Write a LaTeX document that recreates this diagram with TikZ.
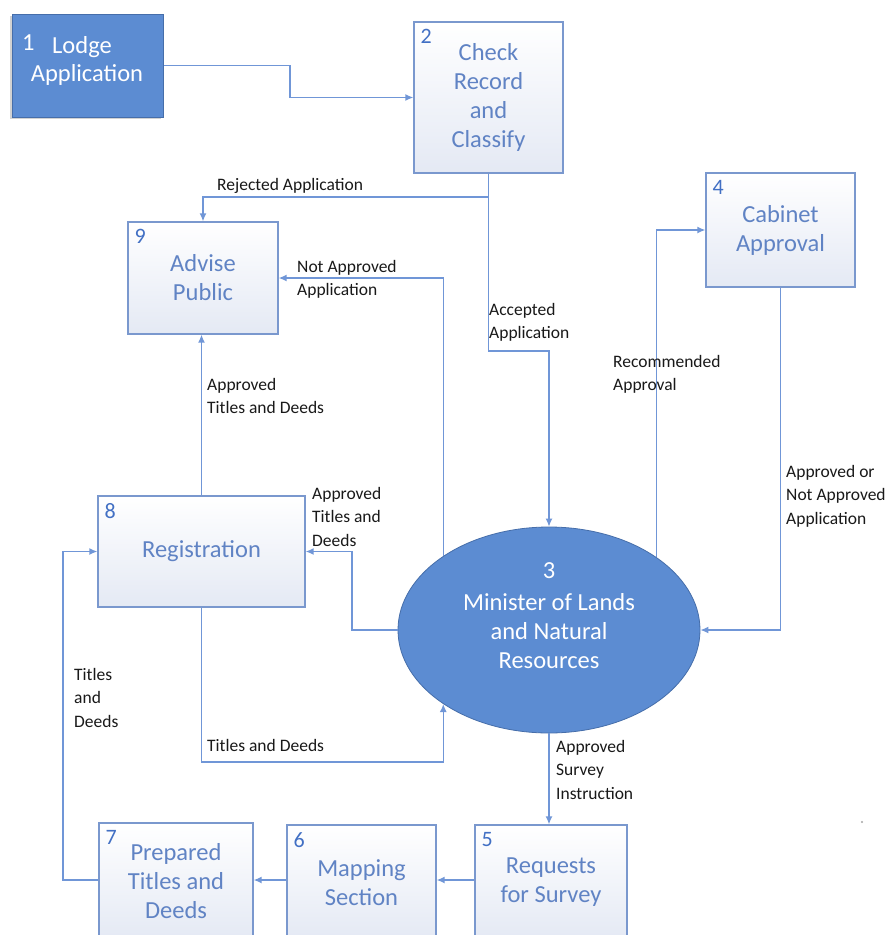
\documentclass[tikz,border=0pt]{standalone}
\usepackage{fontspec}
\setmainfont{Carlito}
\usetikzlibrary{shapes.geometric,arrows.meta,shadows,calc}

\definecolor{flowline}{RGB}{112,150,215}
\definecolor{boxline}{RGB}{122,152,206}
\definecolor{boxtext}{RGB}{96,131,196}
\definecolor{numtext}{RGB}{66,112,196}
\definecolor{boxgrad}{RGB}{228,233,244}
\definecolor{solidblue}{RGB}{92,140,210}
\definecolor{solidedge}{RGB}{70,110,170}
\definecolor{labeltext}{RGB}{25,25,25}

\tikzset{
  proc/.style={draw=boxline, line width=1.3pt, top color=white, bottom color=boxgrad,
    text=boxtext, align=center, inner sep=0pt,
    font=\fontsize{24.5}{29}\selectfont},
  num/.style={anchor=north west, inner sep=0pt, text=numtext,
    font=\fontsize{22}{22}\selectfont, xshift=7pt, yshift=-8pt},
  flow/.style={draw=flowline, line width=1.4pt, -{Latex[length=8pt,width=7pt]}},
  lbl/.style={anchor=north west, inner sep=0pt, align=left, text=labeltext,
    font=\fontsize{17.5}{23.5}\selectfont},
  whitetext/.style={inner sep=0pt, align=center, text=white,
    font=\fontsize{24.5}{29}\selectfont}
}

\begin{document}
\begin{tikzpicture}[x=1pt,y=-1pt]
\useasboundingbox (0,0) rectangle (895,935);
\clip (0,0) rectangle (895,935);
\fill[white] (0,0) rectangle (895,935);

% ---- process boxes ----
\node[draw=solidedge, line width=1pt, fill=solidblue, minimum width=151pt, minimum height=103pt,
      drop shadow={shadow xshift=-2pt, shadow yshift=-2pt, opacity=0.35}] (b1) at (87.5,65.5) {};
\node[whitetext, anchor=north west] (t1a) at (22,35) {1};
\node[whitetext] (t1b) at (82,47) {Lodge};
\node[whitetext] (t1c) at (87,75) {Application};

\node[proc, minimum width=149pt, minimum height=151pt, label={[num]north west:2}]
  (b2) at (488.5,97.5) {Check\\Record\\and\\Classify};
\node[proc, minimum width=150pt, minimum height=112pt, label={[num]north west:9}]
  (b9) at (203,278) {Advise\\Public};
\node[proc, minimum width=149pt, minimum height=114pt, label={[num]north west:4}]
  (b4) at (780.5,230) {Cabinet\\Approval};
\node[proc, minimum width=207pt, minimum height=111pt, label={[num]north west:8}]
  (b8) at (201.5,551.5) {Registration};
\node[proc, minimum width=154pt, minimum height=117pt, label={[num]north west:7}]
  (b7) at (176,881.5) {Prepared\\Titles and\\Deeds};
\node[proc, minimum width=149pt, minimum height=115pt, label={[num]north west:6}]
  (b6) at (361.5,882.5) {Mapping\\Section};
\node[proc, minimum width=152pt, minimum height=115pt, label={[num]north west:5}]
  (b5) at (551,882.5) {Requests\\for Survey};

% ---- central process ----
\node[ellipse, draw=solidedge, line width=0.8pt, fill=solidblue, inner sep=0pt,
      minimum width=302pt, minimum height=206pt] (m) at (549,630) {};
\node[whitetext] (t3) at (549,616) {3\\[3pt]Minister of Lands\\and Natural\\Resources};

% ---- flows ----
\draw[flow] (b1.east) -- (290,65.5) |- (b2.west);
\draw[flow] (b2.south) -- (488.5,197) -| (b9.north);
\draw[flow] (b2.south) -- (488.5,351) -| (m.north);
\draw[flow] (m.145) |- (b9.east);
\draw[flow] (m.34) |- (b4.west);
\draw[flow] (b4.south) |- (m.east);
\draw[flow] (m.west) -- (352,630) |- (b8.east);
\draw[flow] (b8.north) -- (b8.north |- b9.south);
\draw[flow] (b8.south) -- (201.5,762) -| (m.215);
\draw[flow] (m.south) -- (m.south |- b5.north);
\draw[flow] (b5.west |- 0,880) -- (b6.east |- 0,880);
\draw[flow] (b6.west |- 0,880) -- (b7.east |- 0,880);
\draw[flow] (b7.west |- 0,880) -- (63,880) |- (b8.west);

% ---- flow labels ----
\node[lbl] (l1) at (217,178) {Rejected Application};
\node[lbl] (l2) at (297,260) {Not Approved\\Application};
\node[lbl] (l3) at (489,303) {Accepted\\Application};
\node[lbl] (l4) at (613,355) {Recommended\\Approval};
\node[lbl] (l5) at (786,465) {Approved or\\Not Approved\\Application};
\node[lbl] (l6) at (207,378) {Approved\\Titles and Deeds};
\node[lbl] (l7) at (312,487) {Approved\\Titles and\\Deeds};
\node[lbl] (l8) at (74,668) {Titles\\and\\Deeds};
\node[lbl] (l9) at (207,739) {Titles and Deeds};
\node[lbl] (l10) at (556,740) {Approved\\Survey\\Instruction};

% small speck at the right edge
\fill[gray!70] (862,822) circle (1.2pt);
\end{tikzpicture}
\end{document}
